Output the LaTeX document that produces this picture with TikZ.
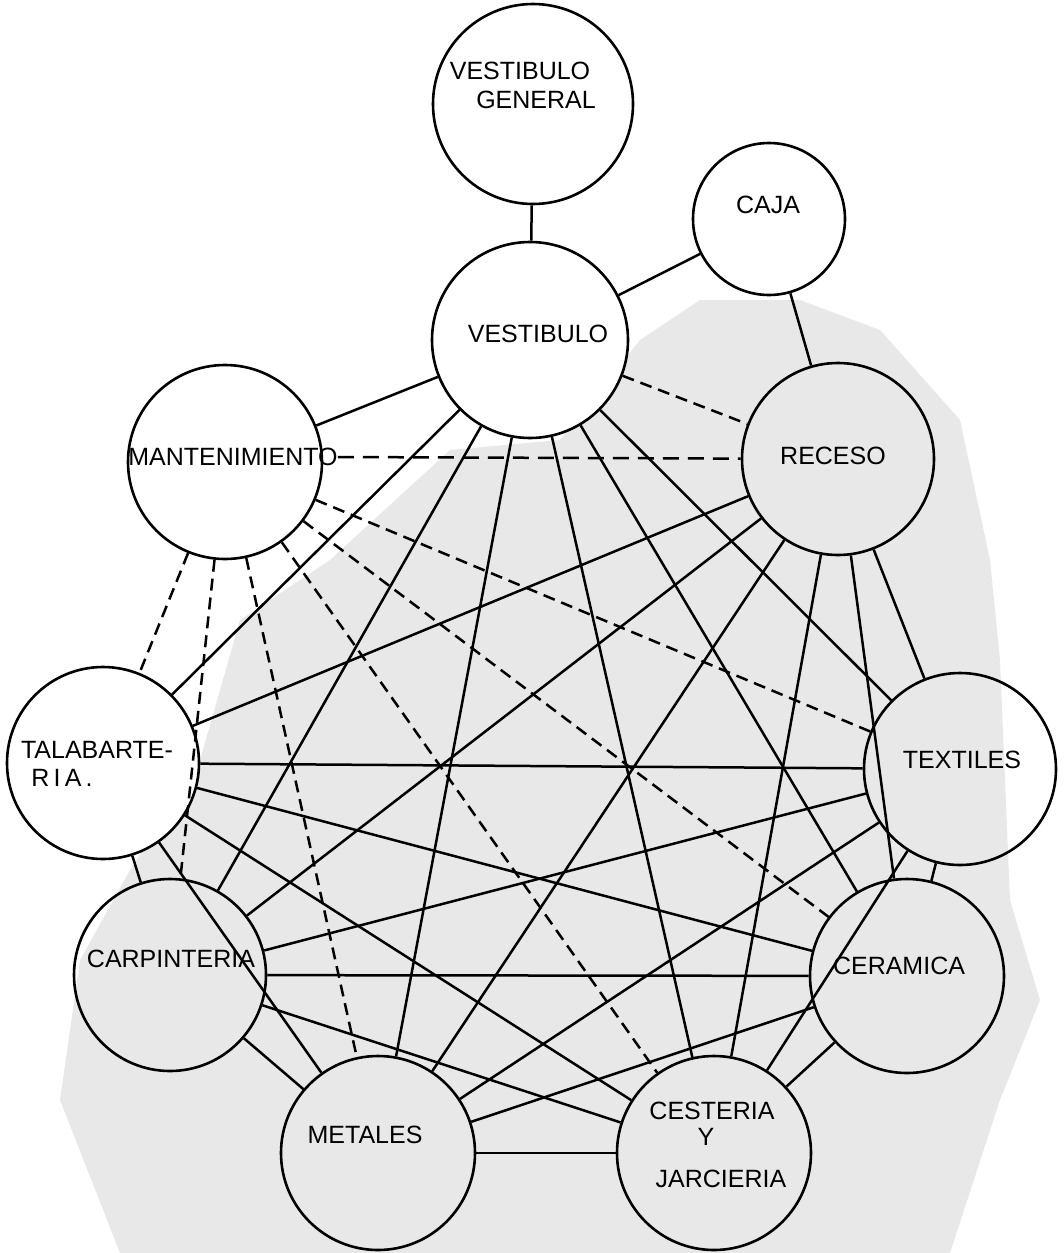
\documentclass[tikz,border=0pt]{standalone}
\usepackage{fontspec}
\setmainfont{Liberation Sans}
\begin{document}
\begin{tikzpicture}[x=1pt,y=-1pt,
  room/.style={circle,draw=black,line width=2.6pt,inner sep=0pt,minimum size=#1},
  plain/.style={fill=white},
  lbl/.style={inner sep=0pt,font=\fontsize{25}{28}\selectfont},
  link/.style={line width=2.5pt},
  weak/.style={line width=2.5pt,dash pattern=on 12pt off 7pt}]
\useasboundingbox (0,0) rectangle (1064,1253);
% stippled zone
\fill[black!9] (560,440) -- (640,340) -- (700,300) -- (800,300) -- (880,330) -- (960,420)
  -- (990,560) -- (1000,660) -- (1010,900) -- (1040,1000) -- (1000,1100) -- (950,1253)
  -- (120,1253) -- (60,1100) -- (80,960) -- (130,870) -- (200,760) -- (240,620)
  -- (330,560) -- (450,450) -- cycle;
% rooms
\node[room=200pt,plain] (vg) at (533,104) {};
\node[room=152pt,plain] (caja) at (769,219) {};
\node[room=196pt,plain] (v) at (530,340) {};
\node[room=192pt] (rec) at (838,459) {};
\node[room=194pt,plain] (mant) at (225,462) {};
\node[room=192pt,plain] (tala) at (103,763) {};
\node[room=192pt] (tex) at (960,769) {};
\node[room=192pt] (carp) at (170,975) {};
\node[room=194pt] (cer) at (907,976) {};
\node[room=194pt] (met) at (378,1153) {};
\node[room=194pt] (ces) at (714,1153) {};
% labels
\node[lbl] (vg1) at (520,71) {VESTIBULO};
\node[lbl] (vg2) at (536,100) {GENERAL};
\node[lbl] (cajat) at (768,205) {CAJA};
\node[lbl] (vt) at (538,334) {VESTIBULO};
\node[lbl] (rect) at (833,456) {RECESO};
\node[lbl] (mantt) at (233,457) {MANTENIMIENTO};
\node[lbl] (tala1) at (97,750) {TALABARTE-};
\node[lbl] (tala2) at (62,778) {R\,I\,A\,.};
\node[lbl] (text) at (962,760) {TEXTILES};
\node[lbl] (carpt) at (171,959) {CARPINTERIA};
\node[lbl] (cert) at (899,966) {CERAMICA};
\node[lbl] (mett) at (365,1135) {METALES};
\node[lbl] (ces1) at (712,1111) {CESTERIA};
\node[lbl] (ces2) at (706,1137) {Y};
\node[lbl] (ces3) at (721,1179) {JARCIERIA};
% solid links
\draw[link] (vg) -- (v);
\draw[link] (v) -- (caja);
\draw[link] (v) -- (mant);
\draw[link] (caja) -- (rec);
\foreach \w in {tala,carp,met,ces,cer,tex}{
  \draw[link] (v) -- (\w);
  \draw[link] (rec) -- (\w);
}
\draw[link] (tala) -- (tex);
\draw[link] (tala) -- (carp);
\draw[link] (tala) -- (cer);
\draw[link] (tala) -- (met);
\draw[link] (tala) -- (ces);
\draw[link] (carp) -- (tex);
\draw[link] (carp) -- (cer);
\draw[link] (carp) -- (met);
\draw[link] (carp) -- (ces);
\draw[link] (met) -- (tex);
\draw[link] (met) -- (cer);
\draw[link] (met) -- (ces);
\draw[link] (ces) -- (tex);
\draw[link] (ces) -- (cer);
\draw[link] (cer) -- (tex);
% dashed links
\draw[weak] (v) -- (rec);
\draw[weak,dash pattern=on 16pt off 9pt] (mantt.east) -- (rec);
\foreach \w in {tala,carp,met,ces,cer,tex}{
  \draw[weak] (mant) -- (\w);
}
\end{tikzpicture}
\end{document}
